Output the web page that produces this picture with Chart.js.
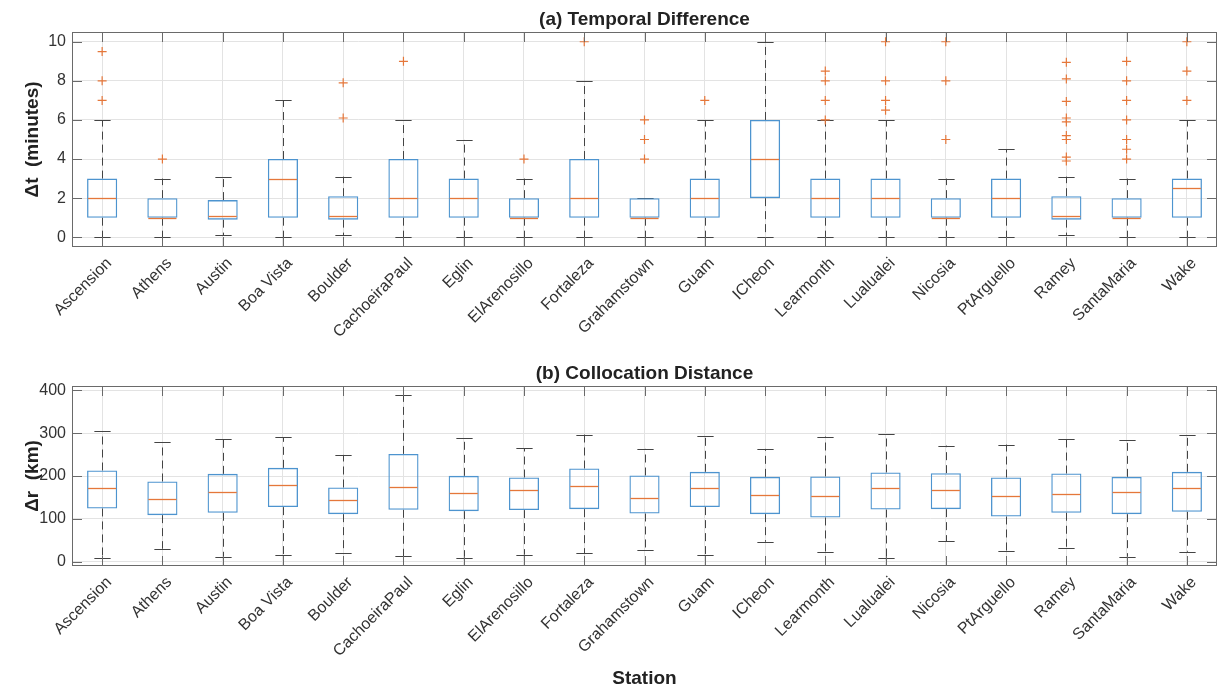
<!DOCTYPE html>
<html>
<head>
<meta charset="utf-8">
<script src="https://cdn.jsdelivr.net/npm/chart.js@4.4.0/dist/chart.umd.min.js"></script>
<style>
  body { margin: 0; background: #fff; }
  #wrap { position: relative; width: 1218px; height: 691px; }
  canvas { position: absolute; left: 0; }
  #chartA { top: 0; }
  #chartB { top: 330px; }
</style>
</head>
<body>
<div id="wrap">
  <canvas id="chartA" width="1218" height="340"></canvas>
  <canvas id="chartB" width="1218" height="361"></canvas>
</div>
<script>
const stations = ['Ascension', 'Athens', 'Austin', 'Boa Vista', 'Boulder', 'CachoeiraPaul', 'Eglin',
  'ElArenosillo', 'Fortaleza', 'Grahamstown', 'Guam', 'ICheon', 'Learmonth', 'Lualualei', 'Nicosia',
  'PtArguello', 'Ramey', 'SantaMaria', 'Wake'];

// (a) temporal difference, minutes
const dtLow  = [0, 0, 0.1, 0, 0.1, 0, 0, 0, 0, 0, 0, 0, 0, 0, 0, 0, 0.1, 0, 0];
const dtQ1   = [1, 1, 0.9, 1, 0.9, 1, 1, 1, 1, 1, 1, 2, 1, 1, 1, 1, 0.9, 1, 1];
const dtMed  = [2, 1, 1.1, 3, 1.1, 2, 2, 1, 2, 1, 2, 4, 2, 2, 1, 2, 1.1, 1, 2.5];
const dtQ3   = [3, 2, 1.9, 4, 2.1, 4, 3, 2, 4, 2, 3, 6, 3, 3, 2, 3, 2.1, 2, 3];
const dtHigh = [6, 3, 3.1, 7, 3.1, 6, 5, 3, 8, 2, 6, 10, 6, 6, 3, 4.5, 3.1, 3, 6];
const dtOut  = [[9.5, 8, 7], [4], [], [], [7.9, 6.1], [9], [], [4], [10], [6, 5, 4], [7], [],
  [8.5, 8, 7, 6], [10, 8, 7, 6.5], [10, 8, 5], [], [8.95, 8.1, 6.95, 6.1, 5.9, 5.2, 5, 4.1, 3.9],
  [9, 8, 7, 6, 5, 4.5, 4], [10, 8.5, 7]];
const dtTicks = [0, 2, 4, 6, 8, 10];

// (b) collocation distance, km
const drLow  = [7.8, 30.3, 11.7, 14.8, 21, 13.2, 8.5, 16.3, 20.2, 27.2, 15.5, 46.6, 21.7, 9.3, 47.4, 24.9, 31.1, 11.7, 23.3];
const drQ1   = [124.3, 108.7, 114.2, 127.4, 111, 121.2, 118, 120.4, 122.7, 112.6, 127.4, 111, 103.3, 121.9, 122.7, 105.6, 114.2, 111, 116.5];
const drMed  = [170.9, 145.2, 161.6, 178.6, 143.7, 174.8, 160, 166.2, 176.3, 148.3, 171.7, 156.1, 152.2, 172.4, 167, 153, 157.7, 161.6, 170.9];
const drQ3   = [212.8, 187.2, 205, 219, 173.2, 251.6, 200.4, 196.5, 217.5, 201.2, 209.7, 198, 198.8, 208.2, 206.6, 196.5, 205.8, 198, 209.7];
const drHigh = [304.5, 278.8, 285.8, 291, 249.3, 390, 289.7, 264.9, 296.7, 263.3, 294.4, 263.3, 292, 298.3, 271, 273.4, 287.4, 283.5, 295.1];
const drOut  = stations.map(() => []);
const drTicks = [0, 100, 200, 300, 400];

const FONT = "'Liberation Sans', Arial, Helvetica, sans-serif";
const BOX_BLUE = '#4d94cf';
const MED_ORANGE = '#e5773a';
const TXT = '#333333';

// whiskers, caps, medians, axes frame and inward ticks, drawn with the chart's scales
const boxParts = {
  id: 'boxParts',
  beforeDatasetsDraw(chart, args, o) {
    const {ctx, scales: {x, y}} = chart;
    const step = x.getPixelForValue(1) - x.getPixelForValue(0);
    const cap = step * 0.135;
    ctx.save();
    ctx.strokeStyle = '#444';
    ctx.lineWidth = 1;
    o.low.forEach((lo, i) => {
      const px = Math.round(x.getPixelForValue(i)) + 0.5;
      ctx.setLineDash([8, 5]);
      ctx.beginPath();
      ctx.moveTo(px, y.getPixelForValue(o.q3[i]));
      ctx.lineTo(px, y.getPixelForValue(o.high[i]));
      ctx.moveTo(px, y.getPixelForValue(o.q1[i]));
      ctx.lineTo(px, y.getPixelForValue(lo));
      ctx.stroke();
      ctx.setLineDash([]);
      ctx.beginPath();
      [lo, o.high[i]].forEach(v => {
        const py = Math.round(y.getPixelForValue(v)) + 0.5;
        ctx.moveTo(px - cap, py);
        ctx.lineTo(px + cap, py);
      });
      ctx.stroke();
    });
    ctx.restore();
  },
  afterDatasetsDraw(chart, args, o) {
    const {ctx, chartArea: a, scales: {x, y}} = chart;
    const step = x.getPixelForValue(1) - x.getPixelForValue(0);
    const half = step * 0.25;
    ctx.save();
    ctx.strokeStyle = MED_ORANGE;
    ctx.lineWidth = 1.3;
    o.med.forEach((m, i) => {
      const px = x.getPixelForValue(i);
      const py = Math.round(y.getPixelForValue(m)) + 0.5;
      ctx.beginPath();
      ctx.moveTo(px - half + 1, py);
      ctx.lineTo(px + half - 1, py);
      ctx.stroke();
    });
    // frame
    ctx.strokeStyle = '#6a6a6a';
    ctx.lineWidth = 1;
    ctx.strokeRect(Math.round(a.left) + 0.5, Math.round(a.top) + 0.5,
      Math.round(a.right - a.left) - 1, Math.round(a.bottom - a.top) - 1);
    // inward ticks on all four sides
    const tl = 10;
    ctx.beginPath();
    o.ticks.forEach(v => {
      const py = Math.round(y.getPixelForValue(v)) + 0.5;
      ctx.moveTo(a.left, py); ctx.lineTo(a.left + tl, py);
      ctx.moveTo(a.right, py); ctx.lineTo(a.right - tl, py);
    });
    stations.forEach((s, i) => {
      const px = Math.round(x.getPixelForValue(i)) + 0.5;
      ctx.moveTo(px, a.top); ctx.lineTo(px, a.top + tl);
      ctx.moveTo(px, a.bottom); ctx.lineTo(px, a.bottom - tl);
    });
    ctx.stroke();
    // panel title centred over the axes
    ctx.fillStyle = '#222';
    ctx.font = 'bold 19px ' + FONT;
    ctx.textAlign = 'center';
    ctx.textBaseline = 'middle';
    ctx.fillText(o.title, (a.left + a.right) / 2, o.titleY);
    ctx.restore();
  }
};

function makeBoxChart(id, s) {
  const outliers = [];
  s.out.forEach((vals, i) => vals.forEach(v => outliers.push({x: stations[i], y: v})));
  return new Chart(document.getElementById(id), {
    type: 'bar',
    data: {
      labels: stations,
      datasets: [{
        data: s.q1.map((v, i) => [v, s.q3[i]]),
        backgroundColor: 'rgba(0,0,0,0)',
        borderColor: BOX_BLUE,
        borderWidth: 1.3,
        borderSkipped: false,
        barPercentage: 0.5,
        categoryPercentage: 1
      }, {
        type: 'scatter',
        data: outliers,
        pointStyle: 'cross',
        radius: 4.5,
        borderColor: MED_ORANGE,
        borderWidth: 1.2
      }]
    },
    options: {
      responsive: false,
      animation: false,
      layout: {autoPadding: false, padding: {top: s.padTop, right: 1, left: 0, bottom: 0}},
      plugins: {
        legend: {display: false},
        tooltip: {enabled: false},
        boxParts: {low: s.low, q1: s.q1, med: s.med, q3: s.q3, high: s.high, ticks: s.ticks,
          title: s.title, titleY: s.titleY}
      },
      scales: {
        x: {
          type: 'category',
          offset: true,
          grid: {offset: false, color: '#e3e3e3', drawTicks: false},
          border: {display: false},
          ticks: {maxRotation: 45, minRotation: 45, autoSkip: false, padding: 7, labelOffset: 7,
            color: TXT, font: {family: FONT, size: 16}},
          title: s.xTitle ? {display: true, text: s.xTitle, color: '#222', padding: {top: 0, bottom: 1},
            font: {family: FONT, size: 19, weight: 'bold'}} : {display: false},
          afterFit: sc => { sc.height = s.xHeight; }
        },
        y: {
          min: s.min,
          max: s.max,
          grid: {color: '#e3e3e3', drawTicks: false},
          border: {display: false},
          ticks: {padding: 6, color: TXT, font: {family: FONT, size: 16}},
          afterBuildTicks: sc => { sc.ticks = s.ticks.map(v => ({value: v})); },
          title: {display: true, text: s.yTitle, color: '#222', padding: {top: 21, bottom: 0},
            font: {family: FONT, size: 19, weight: 'bold'}},
          afterFit: sc => { sc.width = 72; }
        }
      }
    },
    plugins: [boxParts]
  });
}

makeBoxChart('chartA', {
  low: dtLow, q1: dtQ1, med: dtMed, q3: dtQ3, high: dtHigh, out: dtOut, ticks: dtTicks,
  min: -0.5, max: 10.5, yTitle: 'Δt  (minutes)', title: '(a) Temporal Difference', titleY: 19.5,
  padTop: 32, xHeight: 93
});

makeBoxChart('chartB', {
  low: drLow, q1: drQ1, med: drMed, q3: drQ3, high: drHigh, out: drOut, ticks: drTicks,
  min: -10, max: 410, yTitle: 'Δr  (km)', title: '(b) Collocation Distance', titleY: 43.5,
  padTop: 56, xHeight: 125, xTitle: 'Station'
});
</script>
</body>
</html>
